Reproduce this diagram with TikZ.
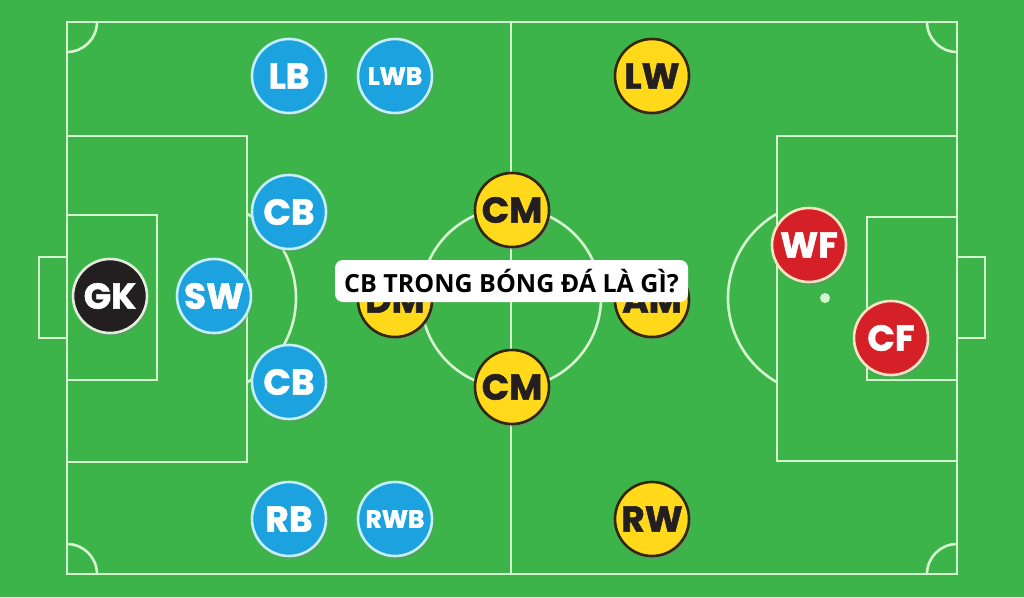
\documentclass[tikz,border=0pt]{standalone}
\usepackage{fontspec}
\newfontfamily\pfont{Poppins}[BoldFeatures={FakeBold=1.6}]
\newfontfamily\ofont{Open Sans}
\usetikzlibrary{shadows}
\definecolor{pitch}{RGB}{60,180,74}
\definecolor{lineC}{RGB}{214,246,208}
\definecolor{blueP}{RGB}{29,162,224}
\definecolor{blueB}{RGB}{196,238,248}
\definecolor{yelP}{RGB}{255,217,26}
\definecolor{yelB}{RGB}{50,40,18}
\definecolor{redP}{RGB}{214,32,40}
\definecolor{redB}{RGB}{244,228,196}
\definecolor{blkP}{RGB}{35,31,32}
\definecolor{blkB}{RGB}{225,236,220}
\definecolor{darkT}{RGB}{35,31,32}
\tikzset{
  pline/.style={draw=lineC, line width=2.6pt},
  player/.style={circle, minimum size=74pt, inner sep=0pt, line width=2.6pt,
    drop shadow={opacity=0.35, shadow xshift=1.5pt, shadow yshift=-3pt},
    font=\pfont\bfseries\fontsize{36}{36}\selectfont},
  small/.style={font=\pfont\bfseries\fontsize{25}{25}\selectfont},
  bluep/.style={player, fill=blueP, draw=blueB, text=white},
  yelp/.style={player, fill=yelP, draw=yelB, text=darkT},
  redp/.style={player, fill=redP, draw=redB, text=white},
  blkp/.style={player, fill=blkP, draw=blkB, text=white},
  label/.style={fill=white, rounded corners=8pt, minimum width=353pt, minimum height=42pt,
    inner sep=0pt, text=black, font=\ofont\bfseries\fontsize{25}{26}\selectfont}
}
\begin{document}
\begin{tikzpicture}[x=1pt,y=-1pt]
\fill[pitch] (0,0) rectangle (1024,597);
\useasboundingbox (0,0) rectangle (1024,597);
% pitch lines
\draw[pline] (67,22) rectangle (957,574);
\draw[pline] (511,22) -- (511,574);
\draw[pline] (511,298) circle[radius=90];
% left side
\draw[pline] (67,136) rectangle (247,462);
\draw[pline] (67,215) rectangle (157,380);
\draw[pline] (67,257) -- (39,257) -- (39,338) -- (67,338);
\draw[pline] (199,298) ++(-60.3:97) arc[start angle=-60.3, end angle=60.3, radius=97];
% right side
\draw[pline] (777,136) rectangle (957,461);
\draw[pline] (867,217) rectangle (957,380);
\draw[pline] (957,257) -- (985,257) -- (985,338) -- (957,338);
\draw[pline] (825,298) ++(119.7:97) arc[start angle=119.7, end angle=240.3, radius=97];
\fill[lineC] (825,298) circle[radius=5];
% corners
\draw[pline] (97,22) arc[start angle=0, end angle=90, radius=30];
\draw[pline] (957,52) arc[start angle=90, end angle=180, radius=30];
\draw[pline] (67,544) arc[start angle=270, end angle=360, radius=30];
\draw[pline] (927,574) arc[start angle=180, end angle=270, radius=30];
% players
\node[bluep] (lb) at (289,76) {LB};
\node[bluep, small] (lwb) at (395,76) {LWB};
\node[yelp] (lw) at (652,76) {LW};
\node[bluep] (cb1) at (289,212) {CB};
\node[yelp] (cm1) at (512,210) {CM};
\node[redp] (wf) at (809,245) {WF};
\node[blkp] (gk) at (110,296) {GK};
\node[bluep] (sw) at (214,296) {SW};
\node[yelp] (dm) at (395,300) {DM};
\node[yelp] (am) at (652,300) {AM};
\node[redp] (cf) at (891,338) {CF};
\node[bluep] (cb2) at (289,382) {CB};
\node[yelp] (cm2) at (512,387) {CM};
\node[bluep] (rb) at (289,519) {RB};
\node[bluep, small] (rwb) at (395,519) {RWB};
\node[yelp] (rw) at (652,519) {RW};
% title label
\node[label] (title) at (511.5,281) {CB TRONG BÓNG ĐÁ LÀ GÌ?};
\end{tikzpicture}
\end{document}
